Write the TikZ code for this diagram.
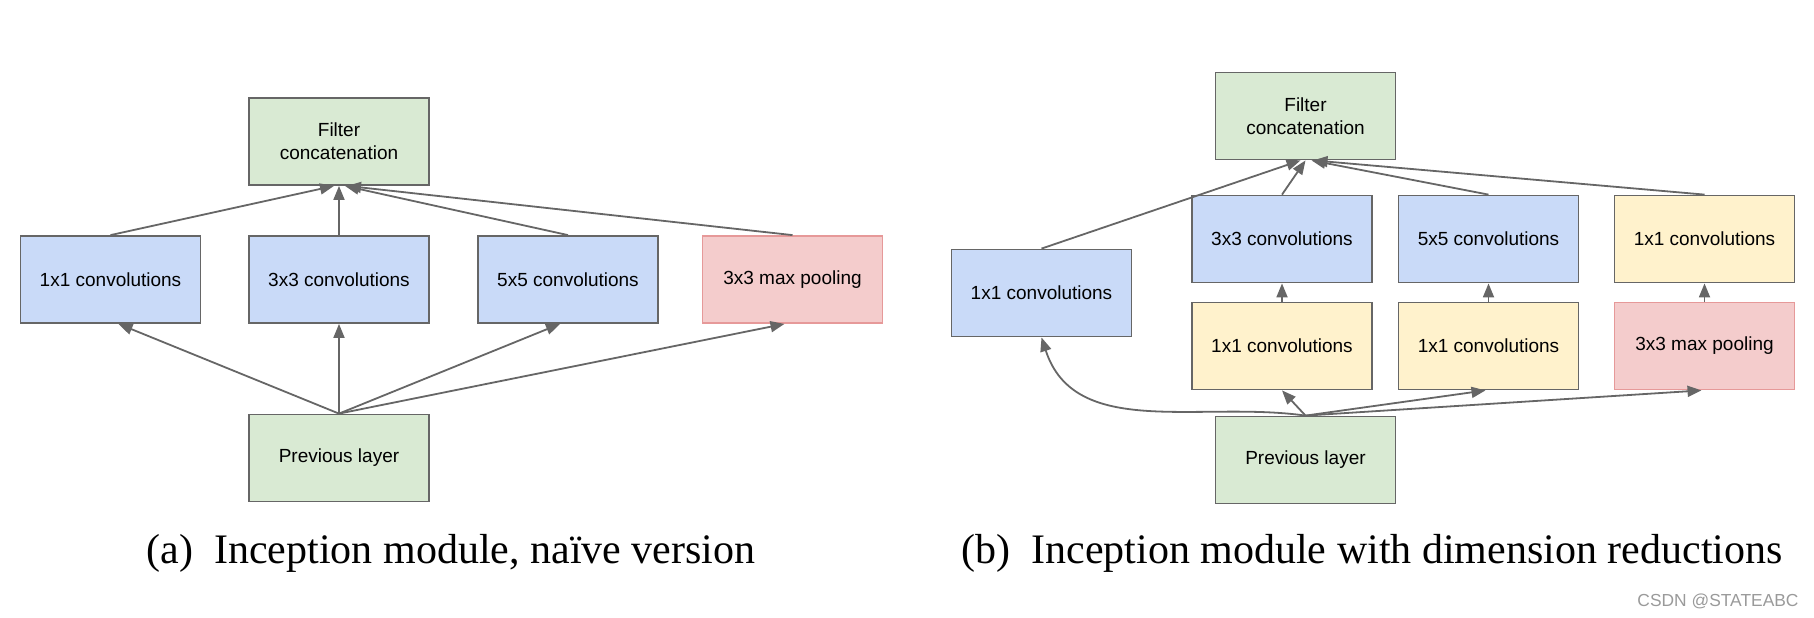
\documentclass[tikz,border=0pt]{standalone}
\usepackage{fontspec}
\setmainfont{Liberation Serif}
\newfontfamily\boxfont{Liberation Sans}
\usetikzlibrary{arrows.meta}
\definecolor{edgegray}{HTML}{666666}
\definecolor{concatgreen}{HTML}{D9EAD3}
\definecolor{convblue}{HTML}{C9DAF8}
\definecolor{reduceyellow}{HTML}{FFF2CC}
\definecolor{poolred}{HTML}{F4CCCC}
\definecolor{poolborder}{HTML}{E69999}
\definecolor{markgray}{HTML}{9A9A9A}
\begin{document}
\begin{tikzpicture}
        [x=0.5pt, y=-0.5pt,
         layer/.style={draw=edgegray, line width=0.9pt, minimum width=90pt, minimum height=43.5pt,
                       inner sep=0pt, align=center, font=\boxfont\fontsize{9.5}{11.5}\selectfont},
         concat/.style={layer, fill=concatgreen},
         conv/.style={layer, fill=convblue},
         reduce/.style={layer, fill=reduceyellow},
         pool/.style={layer, fill=poolred, draw=poolborder},
         caption/.style={anchor=base, font=\fontsize{21}{25}\selectfont},
         arrow/.style={->, color=edgegray, line width=0.9pt},
         >={Triangle[length=7pt, width=5.5pt]}]
        \useasboundingbox (0,0) rectangle (1814,617);

        % (a) naive version
        \node[concat] (catA) at (339,141.5) {Filter\\concatenation};
        \node[conv] (a1) at (110.5,279.5) {1x1 convolutions};
        \node[conv] (a3) at (339,279.5) {3x3 convolutions};
        \node[conv] (a5) at (568,279.5) {5x5 convolutions};
        \node[pool] (apool) at (792.5,279.5) {3x3 max pooling};
        \node[concat] (prevA) at (339,458) {Previous layer};

        \path [arrow] (a1.north) edge ([xshift=-2.5pt]catA.south);
        \path [arrow] (a3.north) edge (catA.south);
        \path [arrow] (a5.north) edge ([xshift=3pt]catA.south);
        \path [arrow] (apool.north) edge ([xshift=4pt]catA.south);
        \path [arrow] (prevA.north) edge ([xshift=4pt]a1.south);
        \path [arrow] (prevA.north) edge (a3.south);
        \path [arrow] (prevA.north) edge ([xshift=-4pt]a5.south);
        \path [arrow] (prevA.north) edge ([xshift=-4pt]apool.south);

        % (b) with dimension reductions
        \node[concat] (catB) at (1305.5,116) {Filter\\concatenation};
        \node[conv] (b1) at (1041.5,293) {1x1 convolutions};
        \node[conv] (b3) at (1282,239) {3x3 convolutions};
        \node[conv] (b5) at (1488.5,239) {5x5 convolutions};
        \node[reduce] (bproj) at (1704.5,239) {1x1 convolutions};
        \node[reduce] (r3) at (1282,346) {1x1 convolutions};
        \node[reduce] (r5) at (1488.5,346) {1x1 convolutions};
        \node[pool] (bpool) at (1704.5,346) {3x3 max pooling};
        \node[concat] (prevB) at (1305.5,460) {Previous layer};

        \path [arrow] (b1.north) edge ([xshift=-2.5pt]catB.south);
        \path [arrow] (b3.north) edge (catB.south);
        \path [arrow] (b5.north) edge ([xshift=3pt]catB.south);
        \path [arrow] (bproj.north) edge ([xshift=4pt]catB.south);
        \path [arrow] (r3.north) edge (b3.south);
        \path [arrow] (r5.north) edge (b5.south);
        \path [arrow] (bpool.north) edge (bproj.south);
        \path [arrow] (prevB.north) edge[out=172, in=-72] (b1.south);
        \path [arrow] (prevB.north) edge (r3.south);
        \path [arrow] (prevB.north) edge ([xshift=-1.5pt]r5.south);
        \path [arrow] (prevB.north) edge ([xshift=-1.5pt]bpool.south);

        % captions
        \node[caption] (capA) at (451,563) {(a)\enskip Inception module, na\"ive version};
        \node[caption] (capB) at (1372,563) {(b)\enskip Inception module with dimension reductions};
        \node[text=markgray, font=\boxfont\fontsize{8.7}{10}\selectfont] (mark) at (1718,601) {CSDN @STATEABC};
\end{tikzpicture}
\end{document}
